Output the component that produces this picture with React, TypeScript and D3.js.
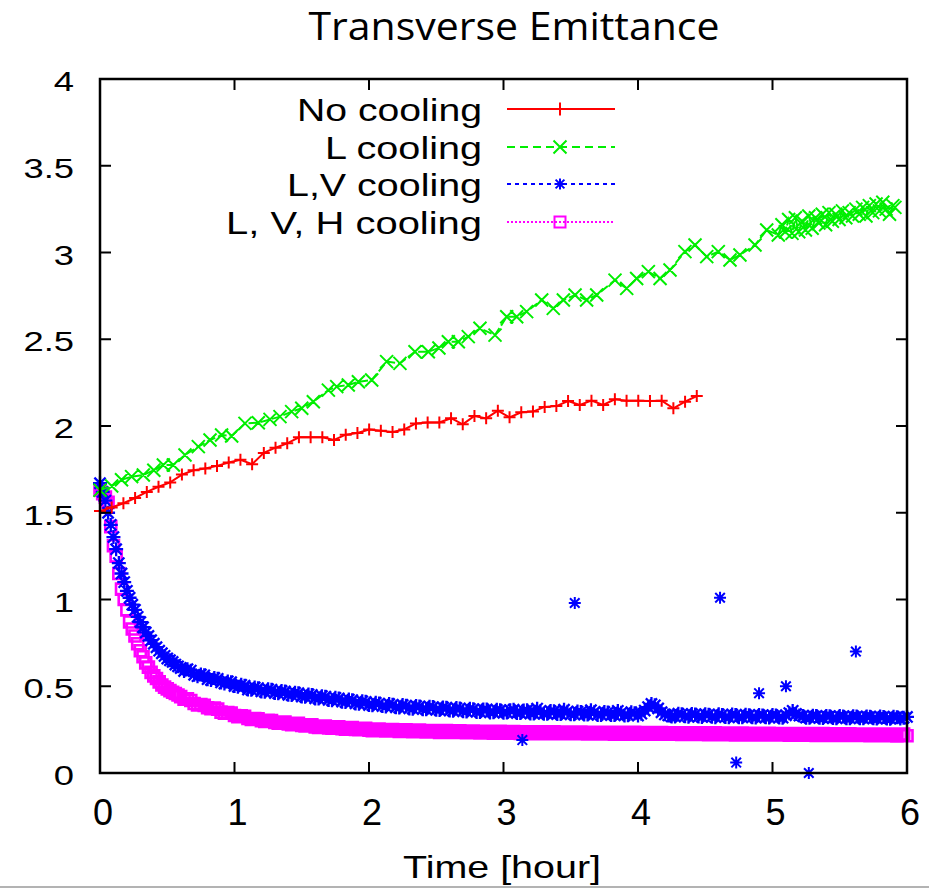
import React from 'react';
import * as d3 from 'd3';

const W = 929;
const H = 890;

const titleText = 'Transverse Emittance';
const xAxisTitle = 'Time [hour]';
const xTicks = [0, 1, 2, 3, 4, 5, 6];
const xTickLabels = ['0', '1', '2', '3', '4', '5', '6'];
const yTicks = [0, 0.5, 1, 1.5, 2, 2.5, 3, 3.5, 4];
const yTickLabels = ['0', '0.5', '1', '1.5', '2', '2.5', '3', '3.5', '4'];
const seriesNames = ['No cooling', 'L cooling', 'L,V cooling', 'L, V, H cooling'];
const seriesColors = ['#ff0000', '#00ee00', '#0000ff', '#ff00ff'];

// No cooling
const noCoolT = [0, 0.087, 0.174, 0.261, 0.348, 0.435, 0.522, 0.609, 0.696, 0.783, 0.87, 0.957, 1.044, 1.131, 1.218, 1.305, 1.392, 1.479, 1.566, 1.653, 1.74, 1.827, 1.914, 2.001, 2.088, 2.175, 2.262, 2.349, 2.436, 2.523, 2.61, 2.697, 2.784, 2.871, 2.958, 3.045, 3.132, 3.219, 3.306, 3.393, 3.48, 3.567, 3.654, 3.741, 3.828, 3.915, 4.002, 4.089, 4.176, 4.263, 4.35, 4.437];
const noCoolV = [1.51, 1.53, 1.555, 1.585, 1.62, 1.65, 1.675, 1.72, 1.745, 1.755, 1.77, 1.79, 1.805, 1.78, 1.845, 1.875, 1.9, 1.935, 1.935, 1.935, 1.92, 1.95, 1.96, 1.98, 1.972, 1.965, 1.98, 2.015, 2.02, 2.02, 2.045, 2.01, 2.058, 2.044, 2.088, 2.05, 2.079, 2.083, 2.11, 2.115, 2.144, 2.121, 2.146, 2.121, 2.154, 2.146, 2.146, 2.144, 2.146, 2.102, 2.14, 2.173];

// L cooling
const lCoolT = [0, 0.087, 0.16, 0.235, 0.322, 0.4, 0.471, 0.545, 0.632, 0.731, 0.818, 0.904, 0.979, 1.078, 1.177, 1.264, 1.338, 1.425, 1.5, 1.586, 1.698, 1.76, 1.846, 1.921, 2.02, 2.131, 2.23, 2.342, 2.441, 2.52, 2.59, 2.664, 2.738, 2.825, 2.937, 3.024, 3.098, 3.172, 3.284, 3.37, 3.445, 3.532, 3.618, 3.693, 3.829, 3.916, 3.99, 4.077, 4.164, 4.238, 4.349, 4.424, 4.511, 4.597, 4.684, 4.758, 4.87, 4.957, 5.043,
  5.07, 5.095, 5.12, 5.145, 5.17, 5.195, 5.22, 5.245, 5.27, 5.295, 5.32, 5.345, 5.37, 5.395, 5.42, 5.445, 5.47, 5.495, 5.52, 5.545, 5.57, 5.595, 5.62, 5.645, 5.67, 5.695, 5.72, 5.745, 5.77, 5.795, 5.82, 5.845, 5.87, 5.895, 5.91];
const lCoolV = [1.63, 1.654, 1.69, 1.708, 1.718, 1.745, 1.775, 1.775, 1.833, 1.881, 1.919, 1.948, 1.942, 2.015, 2.019, 2.038, 2.054, 2.083, 2.102, 2.14, 2.207, 2.227, 2.236, 2.255, 2.265, 2.371, 2.361, 2.428, 2.428, 2.45, 2.486, 2.486, 2.515, 2.563, 2.524, 2.63, 2.63, 2.659, 2.726, 2.678, 2.726, 2.755, 2.726, 2.755, 2.841, 2.793, 2.85, 2.89, 2.85, 2.899, 3.005, 3.043, 2.976, 3.005, 2.957, 2.986, 3.043, 3.13, 3.101,
  3.16, 3.12, 3.19, 3.11, 3.2, 3.12, 3.18, 3.13, 3.21, 3.14, 3.2, 3.17, 3.22, 3.16, 3.23, 3.18, 3.22, 3.19, 3.24, 3.2, 3.23, 3.21, 3.25, 3.22, 3.26, 3.21, 3.27, 3.23, 3.28, 3.24, 3.29, 3.25, 3.22, 3.27, 3.26];

// Sample times for the L,V and L,V,H runs
const denseT = [0, 0.02, 0.04, 0.06, 0.08, 0.1, 0.12, 0.14, 0.16, 0.18, 0.2, 0.22, 0.24, 0.26, 0.28, 0.3, 0.32, 0.34, 0.36, 0.38, 0.4, 0.42, 0.44, 0.46, 0.48, 0.5, 0.52, 0.54, 0.56, 0.58, 0.6,
  0.65, 0.7, 0.75, 0.8, 0.85, 0.9, 0.95, 1, 1.05, 1.1, 1.15, 1.2, 1.25, 1.3, 1.35, 1.4, 1.45, 1.5, 1.55, 1.6, 1.65, 1.7, 1.75, 1.8, 1.85, 1.9, 1.95, 2,
  2.05, 2.1, 2.15, 2.2, 2.25, 2.3, 2.35, 2.4, 2.45, 2.5, 2.55, 2.6, 2.65, 2.7, 2.75, 2.8, 2.85, 2.9, 2.95, 3,
  3.05, 3.1, 3.15, 3.2, 3.25, 3.3, 3.35, 3.4, 3.45, 3.5, 3.55, 3.6, 3.65, 3.7, 3.75, 3.8, 3.85, 3.9, 3.95, 4,
  4.05, 4.1, 4.15, 4.2, 4.25, 4.3, 4.35, 4.4, 4.45, 4.5, 4.55, 4.6, 4.65, 4.7, 4.75, 4.8, 4.85, 4.9, 4.95, 5,
  5.05, 5.1, 5.15, 5.2, 5.25, 5.3, 5.35, 5.4, 5.45, 5.5, 5.55, 5.6, 5.65, 5.7, 5.75, 5.8, 5.85, 5.9, 5.95, 6];
const midT = [0.625, 0.675, 0.725, 0.775, 0.825, 0.875, 0.925, 0.975, 1.025, 1.075, 1.125, 1.175, 1.225, 1.275, 1.325, 1.375, 1.425, 1.475, 1.525, 1.575, 1.625, 1.675, 1.725, 1.775, 1.825, 1.875, 1.925, 1.975,
  2.025, 2.075, 2.125, 2.175, 2.225, 2.275, 2.325, 2.375, 2.425, 2.475, 2.525, 2.575, 2.625, 2.675, 2.725, 2.775, 2.825, 2.875, 2.925, 2.975,
  3.025, 3.075, 3.125, 3.175, 3.225, 3.275, 3.325, 3.375, 3.425, 3.475, 3.525, 3.575, 3.625, 3.675, 3.725, 3.775, 3.825, 3.875, 3.925, 3.975,
  4.025, 4.075, 4.125, 4.175, 4.225, 4.275, 4.325, 4.375, 4.425, 4.475, 4.525, 4.575, 4.625, 4.675, 4.725, 4.775, 4.825, 4.875, 4.925, 4.975,
  5.025, 5.075, 5.125, 5.175, 5.225, 5.275, 5.325, 5.375, 5.425, 5.475, 5.525, 5.575, 5.625, 5.675, 5.725, 5.775, 5.825, 5.875, 5.925, 5.975];

// L,V cooling
const lvCoolV = [1.67, 1.62, 1.57, 1.5, 1.43, 1.36, 1.29, 1.21, 1.15, 1.1, 1.05, 1.01, 0.97, 0.94, 0.9, 0.87, 0.84, 0.81, 0.79, 0.765, 0.745, 0.725, 0.705, 0.69, 0.675, 0.66, 0.65, 0.64, 0.625, 0.615, 0.605,
  0.598, 0.566, 0.568, 0.541, 0.548, 0.522, 0.528, 0.501, 0.508, 0.481, 0.493, 0.47, 0.483, 0.461, 0.473, 0.451, 0.463, 0.441, 0.453, 0.43, 0.443, 0.421, 0.433, 0.411, 0.423, 0.401, 0.413, 0.392,
  0.405, 0.386, 0.398, 0.379, 0.392, 0.372, 0.386, 0.368, 0.382, 0.364, 0.378, 0.36, 0.374, 0.356, 0.37, 0.352, 0.366, 0.349, 0.364, 0.347,
  0.362, 0.346, 0.36, 0.343, 0.371, 0.341, 0.357, 0.34, 0.365, 0.338, 0.354, 0.337, 0.362, 0.335, 0.352, 0.334, 0.358, 0.332, 0.35, 0.331,
  0.36, 0.398, 0.372, 0.338, 0.326, 0.342, 0.327, 0.34, 0.325, 0.339, 0.324, 0.338, 0.323, 0.337, 0.322, 0.336, 0.322, 0.335, 0.321, 0.334,
  0.32, 0.333, 0.358, 0.331, 0.319, 0.33, 0.318, 0.329, 0.317, 0.328, 0.316, 0.327, 0.316, 0.326, 0.315, 0.325, 0.314, 0.324, 0.314, 0.323];
const lvCoolMidV = [0.588, 0.59, 0.558, 0.563, 0.536, 0.543, 0.516, 0.523, 0.497, 0.503, 0.48, 0.489, 0.468, 0.48, 0.459, 0.47, 0.449, 0.46, 0.439, 0.45, 0.429, 0.44, 0.419, 0.43, 0.409, 0.42, 0.399, 0.41,
  0.391, 0.4, 0.384, 0.393, 0.377, 0.388, 0.371, 0.384, 0.367, 0.38, 0.363, 0.376, 0.359, 0.372, 0.355, 0.368, 0.352, 0.366, 0.35, 0.362,
  0.348, 0.365, 0.346, 0.362, 0.343, 0.358, 0.341, 0.356, 0.34, 0.353, 0.338, 0.351, 0.337, 0.35, 0.335, 0.348, 0.334, 0.347, 0.333, 0.345,
  0.342, 0.38, 0.39, 0.35, 0.332, 0.325, 0.338, 0.324, 0.337, 0.323, 0.336, 0.322, 0.335, 0.321, 0.334, 0.321, 0.333, 0.32, 0.332, 0.32,
  0.331, 0.319, 0.345, 0.34, 0.329, 0.318, 0.328, 0.317, 0.327, 0.316, 0.326, 0.315, 0.325, 0.315, 0.324, 0.314, 0.323, 0.313, 0.322, 0.318];
const lvOutlierT = [3.14, 3.53, 4.61, 4.73, 4.9, 5.1, 5.27, 5.62];
const lvOutlierV = [0.19, 0.98, 1.01, 0.06, 0.46, 0.5, 0.0, 0.7];

// L, V, H cooling
const lvhCoolV = [1.63, 1.61, 1.59, 1.56, 1.42, 1.31, 1.25, 1.15, 1.06, 1.0, 0.94, 0.87, 0.83, 0.79, 0.745, 0.705, 0.67, 0.635, 0.61, 0.58, 0.56, 0.545, 0.525, 0.507, 0.495, 0.485, 0.475, 0.465, 0.458, 0.45, 0.44,
  0.428, 0.401, 0.394, 0.376, 0.374, 0.351, 0.349, 0.331, 0.329, 0.314, 0.314, 0.301, 0.304, 0.291, 0.294, 0.282, 0.286, 0.274, 0.278, 0.266, 0.271, 0.26, 0.266, 0.256, 0.261, 0.251, 0.257, 0.247,
  0.252, 0.244, 0.25, 0.242, 0.248, 0.24, 0.246, 0.238, 0.244, 0.237, 0.243, 0.235, 0.242, 0.234, 0.241, 0.233, 0.24, 0.232, 0.239, 0.231,
  0.238, 0.23, 0.237, 0.229, 0.236, 0.228, 0.236, 0.228, 0.235, 0.227, 0.235, 0.227, 0.234, 0.226, 0.234, 0.226, 0.233, 0.225, 0.233, 0.225,
  0.232, 0.225, 0.232, 0.224, 0.231, 0.224, 0.231, 0.223, 0.23, 0.223, 0.23, 0.222, 0.229, 0.222, 0.229, 0.221, 0.228, 0.221, 0.228, 0.22,
  0.227, 0.22, 0.227, 0.219, 0.226, 0.219, 0.226, 0.218, 0.225, 0.218, 0.225, 0.217, 0.224, 0.217, 0.224, 0.216, 0.223, 0.216, 0.223, 0.215];
const lvhCoolMidV = [0.426, 0.418, 0.392, 0.39, 0.37, 0.368, 0.345, 0.346, 0.325, 0.327, 0.309, 0.313, 0.297, 0.303, 0.287, 0.294, 0.279, 0.286, 0.271, 0.278, 0.263, 0.271, 0.258, 0.267, 0.253, 0.262, 0.249, 0.258,
  0.244, 0.253, 0.242, 0.251, 0.24, 0.249, 0.238, 0.247, 0.236, 0.245, 0.234, 0.244, 0.233, 0.243, 0.232, 0.242, 0.231, 0.241, 0.23, 0.24,
  0.229, 0.239, 0.228, 0.238, 0.227, 0.237, 0.227, 0.237, 0.226, 0.236, 0.226, 0.236, 0.225, 0.235, 0.225, 0.235, 0.224, 0.234, 0.224, 0.234,
  0.224, 0.233, 0.223, 0.233, 0.223, 0.232, 0.222, 0.232, 0.222, 0.231, 0.221, 0.231, 0.221, 0.23, 0.22, 0.23, 0.22, 0.229, 0.219, 0.229,
  0.219, 0.228, 0.218, 0.228, 0.218, 0.227, 0.217, 0.227, 0.217, 0.226, 0.216, 0.226, 0.216, 0.225, 0.215, 0.225, 0.215, 0.224, 0.214, 0.224];

const FONT = '"Liberation Sans", Arial, Helvetica, sans-serif';

type Shape = 'plus' | 'cross' | 'star' | 'square';

function markerPath(shape: Shape, x: number, y: number, s: number): string {
  const h = s / 2;
  if (shape === 'plus') return `M${x - h},${y}H${x + h}M${x},${y - h}V${y + h}`;
  if (shape === 'cross') return `M${x - h},${y - h}L${x + h},${y + h}M${x - h},${y + h}L${x + h},${y - h}`;
  if (shape === 'star') {
    const d = h * 0.8;
    return `M${x - h},${y}H${x + h}M${x},${y - h}V${y + h}M${x - d},${y - d}L${x + d},${y + d}M${x - d},${y + d}L${x + d},${y - d}`;
  }
  return `M${x - h},${y - h}H${x + h}V${y + h}H${x - h}Z`;
}

export default function App() {
  const x = d3.scaleLinear().domain([0, 6]).range([100, 907]);
  const y = d3.scaleLinear().domain([0, 4]).range([773, 79]);

  const zip = (ts: number[], vs: number[]) => ts.map((t, i) => [t, vs[i]] as [number, number]);
  const red = zip(noCoolT, noCoolV);
  const green = zip(lCoolT, lCoolV);
  const blueMain = zip(denseT, lvCoolV).concat(zip(midT, lvCoolMidV));
  const blueOut = zip(lvOutlierT, lvOutlierV);
  const magenta = zip(denseT, lvhCoolV).concat(zip(midT, lvhCoolMidV));

  const line = d3.line<[number, number]>().x((d) => x(d[0])).y((d) => y(d[1]));

  const markers = (pts: [number, number][], shape: Shape, s: number) =>
    pts.map((d) => markerPath(shape, x(d[0]), y(d[1]), s)).join('');

  const tickLen = 11;
  const legendRows = [109, 147, 184, 222];
  const legendTextW = [185, 157, 195, 256];
  const legendDash = ['none', '8,5', '4,4', '2,2'];
  const legendShape: Shape[] = ['plus', 'cross', 'star', 'square'];
  const legendSize = [13, 13, 11, 11];

  return (
    <svg width={W} height={H} style={{ position: 'absolute', left: 0, top: 0, background: '#fff' }} fontFamily={FONT}>
      <rect x={0} y={0} width={W} height={H} fill="#fff" />
      <text x={514} y={40} fontSize={38} fontFamily='"Open Sans", "Noto Sans", sans-serif' textAnchor="middle" textLength={411} lengthAdjust="spacingAndGlyphs" fill="#000">{titleText}</text>

      {/* data */}
      <g>
        <path d={markers(magenta, 'square', 11)} fill="none" stroke={seriesColors[3]} strokeWidth={2.6} />
        <path d={markers(blueMain, 'star', 14)} fill="none" stroke={seriesColors[2]} strokeWidth={2.3} />
        <path d={markers(blueOut, 'star', 12)} fill="none" stroke={seriesColors[2]} strokeWidth={2} />
        <path d={line(green) || ''} fill="none" stroke={seriesColors[1]} strokeWidth={2} strokeDasharray="9,3" />
        <path d={markers(green, 'cross', 13)} fill="none" stroke={seriesColors[1]} strokeWidth={2} />
        <path d={line(red) || ''} fill="none" stroke={seriesColors[0]} strokeWidth={2} />
        <path d={markers(red, 'plus', 12)} fill="none" stroke={seriesColors[0]} strokeWidth={2} />
      </g>

      {/* frame */}
      <rect x={100} y={79} width={807} height={694} fill="none" stroke="#000" strokeWidth={2.5} />
      {xTicks.map((t) => (
        <g key={'xt' + t}>
          <line x1={x(t)} x2={x(t)} y1={773} y2={773 - tickLen} stroke="#000" strokeWidth={2} />
          <line x1={x(t)} x2={x(t)} y1={79} y2={79 + tickLen} stroke="#000" strokeWidth={2} />
        </g>
      ))}
      {yTicks.map((t) => (
        <g key={'yt' + t}>
          <line x1={100} x2={100 + tickLen} y1={y(t)} y2={y(t)} stroke="#000" strokeWidth={2} />
          <line x1={907} x2={907 - tickLen} y1={y(t)} y2={y(t)} stroke="#000" strokeWidth={2} />
        </g>
      ))}
      {yTicks.map((t, i) => (
        <text key={'yl' + t} transform={`translate(74,${y(t) + 12}) scale(1.3,1)`} fontSize={28} textAnchor="end" fill="#000">{yTickLabels[i]}</text>
      ))}
      {xTicks.map((t, i) => (
        <text key={'xl' + t} x={x(t) + 3} y={825} fontSize={36} textAnchor="middle" fill="#000">{xTickLabels[i]}</text>
      ))}
      <text x={502} y={878} fontSize={32} textAnchor="middle" textLength={198} lengthAdjust="spacingAndGlyphs" fill="#000">{xAxisTitle}</text>

      {/* legend */}
      {seriesNames.map((name, i) => (
        <g key={name}>
          <text x={482} y={legendRows[i] + 12} fontSize={32} textAnchor="end" textLength={legendTextW[i]} lengthAdjust="spacingAndGlyphs" fill="#000">{name}</text>
          <line x1={507} x2={615} y1={legendRows[i]} y2={legendRows[i]} stroke={seriesColors[i]} strokeWidth={2} strokeDasharray={legendDash[i]} />
          <path d={markerPath(legendShape[i], 560, legendRows[i], legendSize[i])} fill="none" stroke={seriesColors[i]} strokeWidth={2} />
        </g>
      ))}

      <line x1={0} x2={W} y1={887} y2={887} stroke="#9a9a9a" strokeWidth={1.5} />
    </svg>
  );
}
